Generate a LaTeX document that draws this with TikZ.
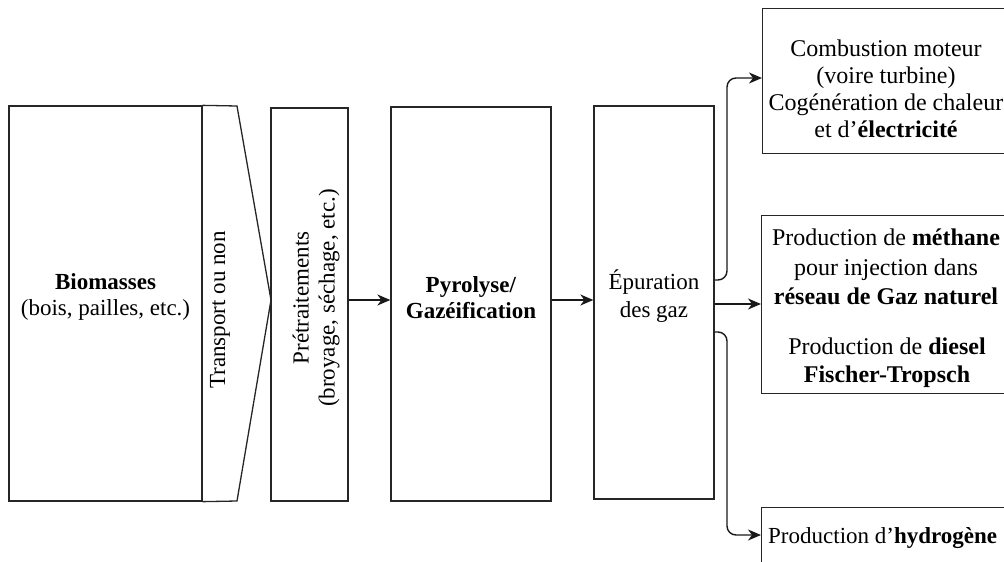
\documentclass[tikz,border=0pt]{standalone}
\usepackage{fontspec}
\setmainfont{Liberation Serif}
\usetikzlibrary{arrows.meta}
\begin{document}
\begin{tikzpicture}[x=1pt,y=-1pt,
  boxnode/.style={draw=black!85, line width=1.3pt, inner sep=0pt, rectangle},
  txt/.style={font=\fontsize{23}{26}\selectfont, align=center, inner sep=0pt},
  otxt/.style={font=\fontsize{24}{27}\selectfont, align=center, inner sep=0pt},
  arr/.style={-{Stealth[length=13pt,width=11pt,inset=4pt]}, line width=1.4pt, draw=black!90},
  edge/.style={line width=1.3pt, draw=black!85, line join=miter}]
\clip (0,0) rectangle (1004,562);
\useasboundingbox (0,0) rectangle (1004,562);
% main boxes
\node[boxnode, minimum width=193pt, minimum height=395pt] (bio) at (105.5,303.5) {};
\node[boxnode, minimum width=77pt, minimum height=393pt] (pre) at (309.5,304.5) {};
\node[boxnode, minimum width=160pt, minimum height=394pt] (pyro) at (471,304) {};
\node[boxnode, minimum width=120pt, minimum height=393pt] (epu) at (654,302.5) {};
% output boxes (right side cut by the page edge)
\node[boxnode, minimum width=260pt, minimum height=145pt, anchor=north west] (out1) at (762,8) {};
\node[boxnode, minimum width=260pt, minimum height=178pt, anchor=north west] (out2) at (761,215) {};
\node[boxnode, minimum width=260pt, minimum height=80pt, anchor=north west] (out3) at (761,507) {};
% chevron (transport)
\draw[edge] (bio.north east) -- (237,106) -- (271,300) -- (237,501) -- (bio.south east);
% texts
\node[txt] (tbio) at (105.5,297) {\textbf{Biomasses}\\(bois, pailles, etc.)};
\node[txt, rotate=90] (ttrans) at (220,310) {Transport ou non};
\node[txt, rotate=90] (tpre) at (316,298) {Prétraitements\\(broyage, séchage, etc.)};
\node[txt] (tpyro) at (471,298) {\textbf{Pyrolyse/}\\\textbf{Gazéification}};
\node[txt, font=\fontsize{23}{28}\selectfont] (tepu) at (654,296) {Épuration\\des gaz};
\node[otxt] (t1) at (886,89) {Combustion moteur\\(voire turbine)\\Cogénération de chaleur\\et d’\textbf{électricité}};
\node[otxt, font=\fontsize{24}{29.5}\selectfont] (t2a) at (886,267) {Production de \textbf{méthane}\\pour injection dans\\\textbf{réseau de Gaz naturel}};
\node[otxt, font=\fontsize{24}{28}\selectfont] (t2b) at (887,363) {Production de \textbf{diesel}\\\textbf{Fischer-Tropsch}};
\node[txt, anchor=base west] (t3) at (768,543) {Production d’\textbf{hydrogène}};
% connectors
\coordinate (ya) at (0,300);
\draw[arr] (pre.east |- ya) -- (pyro.west |- ya);
\draw[arr] (pyro.east |- ya) -- (epu.west |- ya);
\coordinate (ym) at (0,304);
\draw[arr] (epu.east |- ym) -- (out2.west |- ym);
\coordinate (yu) at (0,280);
\coordinate (yu2) at (0,78);
\coordinate (xb) at (727,0);
\draw[arr, rounded corners=9pt] (epu.east |- yu) -- (xb |- yu) -- (xb |- yu2) -- (out1.west |- yu2);
\coordinate (yl) at (0,332);
\coordinate (yl2) at (0,535);
\draw[arr, rounded corners=9pt] (epu.east |- yl) -- (xb |- yl) -- (xb |- yl2) -- (out3.west |- yl2);
\end{tikzpicture}
\end{document}
